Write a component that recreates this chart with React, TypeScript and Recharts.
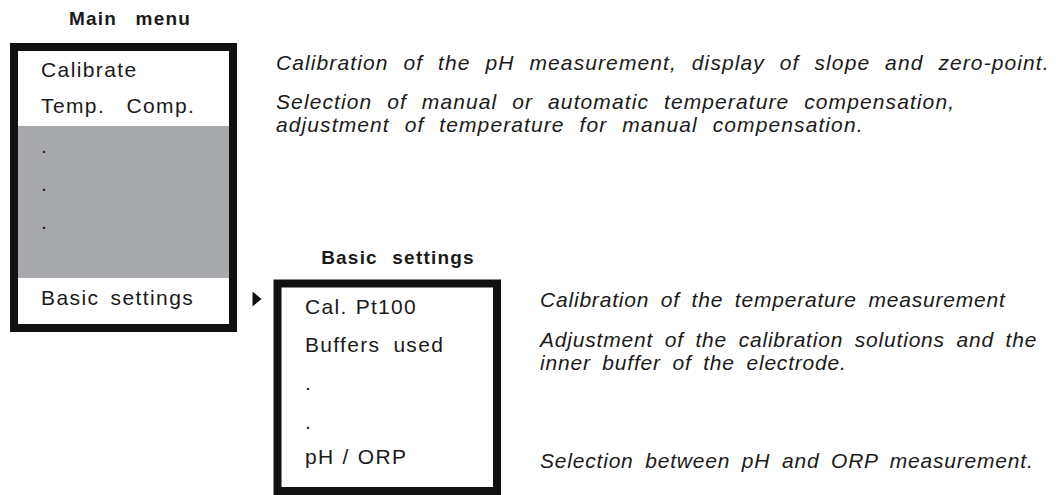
import { ComposedChart, XAxis, YAxis, ReferenceArea, ReferenceDot } from "recharts";

const W = 1056;
const H = 495;

const titles = ["Main menu", "Basic settings"];
const mainItems = ["Calibrate", "Temp. Comp.", ".", ".", ".", "Basic settings"];
const basicItems = ["Cal. Pt100", "Buffers used", ".", ".", "pH / ORP"];
const mainNotes = [
  "Calibration of the pH measurement, display of slope and zero-point.",
  "Selection of manual or automatic temperature compensation,",
  "adjustment of temperature for manual compensation.",
];
const basicNotes = [
  "Calibration of the temperature measurement",
  "Adjustment of the calibration solutions and the",
  "inner buffer of the electrode.",
  "Selection between pH and ORP measurement.",
];

// layout (pixel coordinates on the hidden axes)
const titleWs = [12, 8];
const mainItemY = [77, 113, 153, 191, 229, 305];
const mainItemWs = [3, 14, 3, 3, 3, 4];
const basicItemY = [314, 352, 390, 429, 464];
const basicItemWs = [1, 6, 1, 1, 1];
const mainNoteY = [70, 109, 132];
const basicNoteY = [307, 347, 370, 468];

const FONT = "'Liberation Sans', Arial, sans-serif";

type TextProps = {
  x: number;
  y: number;
  text: string;
  anchor?: "start" | "middle";
  bold?: boolean;
  italic?: boolean;
  size?: number;
  ls?: number;
  ws?: number;
};

function textDot({ x, y, text, anchor = "start", bold, italic, size = 21, ls = 1.4, ws = 3 }: TextProps) {
  return (
    <ReferenceDot
      key={`${text}-${x}-${y}`}
      x={x}
      y={y}
      ifOverflow="visible"
      shape={(p: any) => (
        <text
          x={p.cx}
          y={p.cy}
          textAnchor={anchor}
          fontFamily={FONT}
          fontSize={size}
          fontWeight={bold ? 700 : 400}
          fontStyle={italic ? "italic" : "normal"}
          letterSpacing={ls}
          wordSpacing={ws}
          fill="#1a1a1a"
        >
          {text}
        </text>
      )}
    />
  );
}

const arrow = (p: any) => (
  <polygon
    points={`${p.cx - 4.5},${p.cy - 7.5} ${p.cx + 4.5},${p.cy} ${p.cx - 4.5},${p.cy + 7.5}`}
    fill="#111"
  />
);

export default function App() {
  return (
    <div style={{ width: W, height: H, background: "#fff" }}>
      <style>{"body{margin:0}"}</style>
      <ComposedChart width={W} height={H} data={[]} margin={{ top: 0, right: 0, bottom: 0, left: 0 }}>
        <XAxis type="number" dataKey="x" domain={[0, W]} hide allowDataOverflow />
        <YAxis type="number" dataKey="y" domain={[0, H]} reversed hide allowDataOverflow />

        {/* main menu frame */}
        <ReferenceArea x1={18} x2={229} y1={126} y2={278} fill="#a8a9ad" fillOpacity={1} stroke="none" ifOverflow="visible" />
        <ReferenceArea x1={14} x2={233} y1={47} y2={328} fill="none" stroke="#111" strokeWidth={8} ifOverflow="visible" />

        {/* basic settings frame */}
        <ReferenceArea x1={277.5} x2={497} y1={283.5} y2={491} fill="none" stroke="#111" strokeWidth={8} ifOverflow="visible" />

        <ReferenceDot x={257} y={299} ifOverflow="visible" shape={arrow} />

        {titles.map((t, i) =>
          textDot({ x: i === 0 ? 130 : 398, y: i === 0 ? 25 : 264, text: t, anchor: "middle", bold: true, size: 19, ls: 1.2, ws: titleWs[i] })
        )}

        {mainItems.map((t, i) => textDot({ x: 41, y: mainItemY[i], text: t, ws: mainItemWs[i] }))}
        {basicItems.map((t, i) => textDot({ x: 305, y: basicItemY[i], text: t, ls: 1.3, ws: basicItemWs[i] }))}

        {mainNotes.map((t, i) => textDot({ x: 276, y: mainNoteY[i], text: t, italic: true, size: 21, ls: 1.1, ws: 8 }))}
        {basicNotes.map((t, i) => textDot({ x: 540, y: basicNoteY[i], text: t, italic: true, size: 21, ls: 0.8, ws: 5 }))}
      </ComposedChart>
    </div>
  );
}
